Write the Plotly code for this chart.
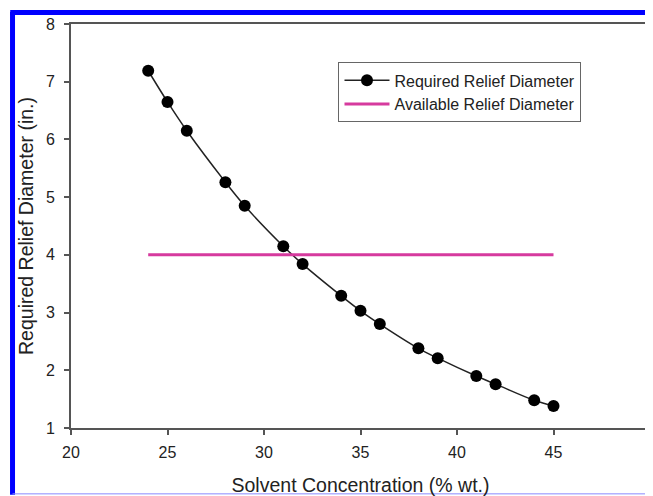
import plotly.graph_objects as go

solvent = [24, 25, 26, 28, 29, 31, 32, 34, 35, 36, 38, 39, 41, 42, 44, 45]
required = [7.19, 6.65, 6.15, 5.26, 4.85, 4.15, 3.84, 3.29, 3.03, 2.80, 2.38, 2.21, 1.90, 1.76, 1.48, 1.38]
avail_x = [24, 45]
avail_y = [4, 4]

FONT = "Liberation Sans, Arial, sans-serif"
fig = go.Figure()
fig.add_trace(go.Scatter(x=solvent, y=required, mode="lines+markers",
                         name="Required Relief Diameter",
                         line=dict(color="#222222", width=1.5, shape="spline"),
                         marker=dict(color="#000000", size=12)))
fig.add_trace(go.Scatter(x=avail_x, y=avail_y, mode="lines",
                         name="Available Relief Diameter",
                         line=dict(color="#d63a9e", width=3)))

axis_common = dict(showline=True, linecolor="#555555", linewidth=2, mirror=True,
                   ticks="outside", ticklen=5, tickcolor="#555555", tickwidth=1.5,
                   showgrid=False, zeroline=False, automargin=False,
                   tickfont=dict(family=FONT, size=16, color="#222222"))
fig.update_xaxes(range=[20, 50], tickvals=[20, 25, 30, 35, 40, 45, 50],
                 ticklabelstandoff=4,
                 title=dict(text="Solvent Concentration (% wt.)",
                            font=dict(family=FONT, size=19.5, color="#222222"), standoff=19),
                 **axis_common)
fig.update_yaxes(range=[1, 8], tickvals=[1, 2, 3, 4, 5, 6, 7, 8],
                 ticklabelstandoff=6,
                 title=dict(text="Required Relief Diameter (in.)",
                            font=dict(family=FONT, size=19.5, color="#222222"), standoff=7),
                 **axis_common)

# blue frame
fig.add_shape(type="line", xref="paper", yref="paper", x0=-0.101, x1=-0.101, y0=-0.165, y1=1.03,
              line=dict(color="#0000ff", width=5))
fig.add_shape(type="line", xref="paper", yref="paper", x0=-0.105, x1=1.03, y0=1.0285, y1=1.0285,
              line=dict(color="#0000ff", width=5))
fig.add_shape(type="line", xref="paper", yref="paper", x0=-0.101, x1=1.03, y0=-0.163, y1=-0.163,
              line=dict(color="#8a8aff", width=1))

# page body has an 8px margin, so the figure is 8px smaller than the window
fig.update_layout(width=645, height=488,
                  margin=dict(l=63, r=3, t=16, b=68),
                  paper_bgcolor="white", plot_bgcolor="white",
                  font=dict(family=FONT, color="#222222"),
                  legend=dict(x=0.462, y=0.905, xanchor="left", yanchor="top",
                              bordercolor="#666666", borderwidth=1, bgcolor="white",
                              font=dict(family=FONT, size=16, color="#222222"),
                              tracegroupgap=0, itemwidth=45))
fig.write_html("out.html")
